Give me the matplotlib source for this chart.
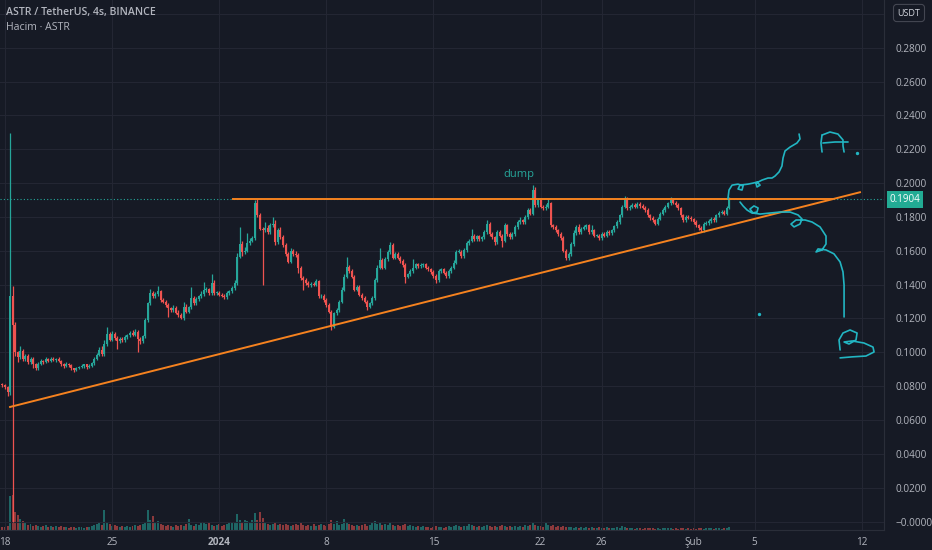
import numpy as np
import pandas as pd
import matplotlib
matplotlib.use('Agg')
import matplotlib.pyplot as plt
import matplotlib.dates as mdates

# ASTR/USDT 4h candles, first candle Dec 17 20:00
closes = [
    0.0805, 0.0795, 0.0765, 0.1330, 0.1160, 0.1000, 0.0970, 0.1010, 0.0960, 0.0980, 0.0940, 0.0960,
    0.0930, 0.0905, 0.0930, 0.0950, 0.0940, 0.0960, 0.0950, 0.0962, 0.0953, 0.0962,
    0.0948, 0.0930, 0.0918, 0.0930, 0.0925, 0.0905, 0.0895, 0.0905, 0.0912, 0.0920,
    0.0928, 0.0912, 0.0920, 0.0935, 0.0960, 0.0985, 0.1015, 0.0990, 0.1050, 0.1110,
    0.1075, 0.1110, 0.1085, 0.1065, 0.1080, 0.1070, 0.1090, 0.1100, 0.1115, 0.1105,
    0.1120, 0.1080, 0.1065, 0.1095,
    0.1190, 0.1290, 0.1350, 0.1330, 0.1345, 0.1360, 0.1310, 0.1300, 0.1280, 0.1260,
    0.1250, 0.1262, 0.1235, 0.1220, 0.1203, 0.1270, 0.1240, 0.1265, 0.1320, 0.1290,
    0.1315, 0.1330, 0.1345, 0.1368, 0.1372, 0.1350, 0.1410, 0.1350, 0.1352, 0.1340,
    0.1335, 0.1327, 0.1350, 0.1360, 0.1380, 0.1410, 0.1565, 0.1640, 0.1590, 0.1600,
    0.1645, 0.1660, 0.1675, 0.1880, 0.1810, 0.1730, 0.1720,
    0.1735, 0.1710, 0.1750, 0.1760, 0.1650, 0.1720, 0.1680, 0.1634, 0.1580, 0.1535,
    0.1600, 0.1580, 0.1575, 0.1500, 0.1440, 0.1430, 0.1410, 0.1398, 0.1405, 0.1400,
    0.1420, 0.1330, 0.1335, 0.1310, 0.1280, 0.1240, 0.1151, 0.1230, 0.1250, 0.1300,
    0.1370, 0.1447, 0.1506, 0.1480, 0.1447, 0.1370, 0.1385, 0.1340, 0.1320, 0.1300,
    0.1270, 0.1290, 0.1320, 0.1427, 0.1500, 0.1545, 0.1500, 0.1550, 0.1590, 0.1634,
    0.1560, 0.1580, 0.1560, 0.1540, 0.1516, 0.1447, 0.1460, 0.1480, 0.1500, 0.1520,
    0.1510, 0.1516, 0.1520, 0.1500, 0.1490, 0.1475, 0.1450, 0.1427, 0.1480, 0.1490,
    0.1470, 0.1450, 0.1480, 0.1500, 0.1530, 0.1595, 0.1595, 0.1570, 0.1604, 0.1645,
    0.1660, 0.1690, 0.1670, 0.1686, 0.1670, 0.1680, 0.1710, 0.1760, 0.1700, 0.1680,
    0.1650, 0.1710, 0.1690, 0.1660, 0.1750, 0.1700, 0.1680, 0.1700, 0.1740, 0.1770,
    0.1780, 0.1770, 0.1800, 0.1840, 0.1820, 0.1960, 0.1870, 0.1900, 0.1860, 0.1850,
    0.1860, 0.1880, 0.1750, 0.1740, 0.1720, 0.1700, 0.1675, 0.1600, 0.1557, 0.1580,
    0.1640, 0.1705, 0.1740, 0.1710, 0.1730, 0.1740, 0.1750, 0.1710, 0.1720, 0.1690,
    0.1690, 0.1675, 0.1700, 0.1690, 0.1710, 0.1705, 0.1720, 0.1745, 0.1770, 0.1810,
    0.1860, 0.1910, 0.1850, 0.1860, 0.1870, 0.1860, 0.1876, 0.1865, 0.1855, 0.1840,
    0.1810, 0.1794, 0.1780, 0.1760, 0.1790, 0.1820, 0.1840, 0.1860, 0.1880, 0.1900,
    0.1885, 0.1870, 0.1850, 0.1810, 0.1780, 0.1800, 0.1795, 0.1785, 0.1770, 0.1750,
    0.1735, 0.1720, 0.1760, 0.1765, 0.1775, 0.1790, 0.1780, 0.1810, 0.1825, 0.1830,
    0.1820, 0.1855, 0.1904,
]
first_open = 0.0810

# wick lengths above / below the body, in 0.001 USDT
upper_wick = [
    1, 0.5, 0.5, 96.6, 6, 2, 1, 3, 1, 1,
    1, 1.5, 1, 0.5, 1, 1, 0.5, 1, 0.5, 1,
    1, 0.5, 1, 0.5, 0.5, 1, 0.5, 0.5, 0.5, 1,
    0.5, 1, 0.5, 0.5, 1, 0.5, 1, 1, 1.5, 2.5,
    2, 3.8, 1, 1.5, 1, 1, 1, 1, 1, 1,
    1, 1.5, 1.5, 1, 1, 1, 1.5, 1, 2.4, 1,
    1, 3, 1, 1, 1, 1, 1, 1.5, 1, 1.5,
    1, 3, 1.5, 1, 6.6, 1, 1, 1, 1.5, 5,
    1.5, 1, 5.3, 1.5, 1, 1, 1, 1, 1, 1,
    1, 2, 2, 10, 2, 2, 6, 1.5, 1, 2,
    2.6, 1.5, 1, 3.5, 2, 1.5, 4, 2, 1.5, 2,
    1.5, 1, 1, 1.5, 1, 2, 1, 1, 1, 1,
    1, 1, 1, 1.5, 1, 1, 1, 1, 1, 1,
    1, 1, 1, 1.5, 1.5, 6, 1, 1, 1, 1.5,
    1, 1, 1, 1, 1, 1, 1.5, 1.5, 7, 1,
    1.5, 1.5, 1.6, 1, 1.5, 1, 1, 1, 1, 1,
    1, 5, 1, 1, 1, 1, 1, 1, 1, 1,
    1, 1.5, 1, 1, 1, 1, 1, 1.5, 1, 1.5,
    1, 1, 1.5, 1, 4, 1, 1, 1, 1, 1.5,
    2, 1, 1, 1, 1, 1, 1, 1.5, 1, 1,
    1, 1, 1, 2, 1, 1, 1.5, 1, 3, 1.5,
    1, 1, 1, 1.5, 2.5, 1, 1, 1, 1, 1,
    1, 1, 1, 1, 1.5, 1, 2, 1, 1, 1,
    1, 3, 1, 1, 1, 1, 1, 1, 1, 1,
    1, 1, 1, 1, 1.6, 1, 1, 1, 1, 1,
    1, 1, 1, 1, 1, 1, 1, 1, 1, 1,
    1, 1, 1.8, 1, 1, 1, 1, 1, 1, 1,
    1, 1, 1, 1, 1, 1, 1, 1, 1, 1,
    1, 1, 1, 1, 1, 1.6,
]
lower_wick = [
    1, 1, 2.5, 1.5, 116, 2, 3, 1, 1, 1,
    1, 1, 2, 0.7, 1, 0.5, 1, 0.5, 1, 0.5,
    0.5, 1, 0.5, 1, 1, 0.5, 1, 1, 1, 0.5,
    0.5, 0.5, 1, 1, 0.5, 0.5, 1, 0.5, 0.5, 1,
    1, 1, 1, 1, 1, 4.5, 1, 1, 1, 1,
    1, 1, 1, 7.6, 1.5, 1, 1, 1, 1, 1,
    1, 1, 1, 1, 1.5, 5, 1, 1, 1, 1,
    0.8, 1, 1, 1, 1, 1, 1, 1, 1, 1,
    1, 1, 1, 1, 1, 1, 1, 1, 1, 1,
    1, 1, 1, 1, 2, 1, 1, 1, 1, 1,
    1, 1, 32, 1, 1, 1, 1, 1.5, 1, 1,
    1, 1, 1, 1, 1, 1, 3, 1, 6, 1,
    1, 1, 1, 1, 1, 1, 1, 1, 1, 2,
    1, 1, 1, 1, 1, 1, 1, 1, 1, 1,
    1, 1, 1, 2, 1, 1, 1, 1, 1, 1,
    1, 1, 1, 1, 1, 1, 1, 1, 3.7, 1,
    1, 1, 1, 1, 1, 1, 1, 1, 1, 1,
    1.5, 1, 1, 1, 1, 1, 1, 1, 1, 1,
    1, 1, 1, 1, 1, 1, 1, 1, 1, 1,
    1, 1, 1, 1.5, 1, 1, 4, 1, 1, 1,
    1, 1, 1, 1, 1, 1, 1, 1, 1, 1,
    1, 1, 1, 1, 1, 1, 1, 1, 1, 1,
    1, 1.2, 1, 1, 1, 1, 1, 1, 1, 1,
    1, 1, 1, 1, 1, 1, 1, 1, 1, 1,
    1, 1, 1, 1, 1, 1, 1, 1, 1, 1,
    1, 1, 1, 1, 1, 1, 1, 1, 1, 1,
    1, 1, 1, 1, 1, 1, 1, 1, 1, 1,
    1, 1, 1, 1, 1, 1, 1, 1, 1, 1,
    1, 1, 1, 1, 1, 1,
]
volumes = [
    3, 3, 4, 34, 35, 18, 15, 11, 9, 7,
    5, 6, 4, 5, 4, 3, 4, 5, 3, 4,
    3, 4, 3, 4, 3, 3, 2, 3, 3, 2,
    3, 3, 2, 3, 3, 4, 5, 6, 7, 5,
    20, 8, 6, 4, 5, 4, 3, 4, 3, 4,
    3, 4, 5, 4, 5, 6, 8, 20, 10, 14,
    8, 9, 6, 5, 4, 5, 4, 3, 5, 4,
    5, 4, 6, 11, 5, 4, 6, 5, 8, 7,
    6, 8, 5, 4, 5, 6, 4, 5, 6, 7,
    7, 8, 16, 10, 8, 10, 9, 8, 10, 17,
    10, 18, 12, 7, 6, 5, 6, 7, 5, 6,
    5, 6, 5, 4, 5, 6, 5, 7, 5, 4,
    5, 4, 6, 4, 5, 6, 5, 4, 6, 10,
    6, 9, 5, 6, 11, 7, 6, 5, 4, 5,
    4, 5, 6, 4, 5, 7, 9, 6, 7, 5,
    6, 5, 7, 5, 4, 5, 4, 5, 6, 4,
    5, 4, 3, 4, 3, 4, 3, 3, 2, 3,
    4, 3, 3, 2, 3, 4, 3, 4, 5, 4,
    3, 4, 4, 6, 5, 4, 3, 4, 3, 4,
    5, 4, 3, 4, 3, 4, 5, 4, 3, 4,
    3, 4, 3, 4, 3, 5, 4, 5, 8, 5,
    4, 4, 3, 7, 5, 4, 5, 3, 4, 3,
    4, 3, 3, 3, 2, 3, 2, 3, 2, 3,
    2, 3, 2, 2, 3, 2, 2, 3, 2, 2,
    2, 3, 2, 4, 3, 2, 2, 2, 1, 2,
    2, 1, 2, 2, 2, 2, 1, 2, 1, 2,
    2, 2, 2, 1, 2, 1, 2, 2, 1, 2,
    1, 2, 1, 2, 2, 1, 2, 2, 2, 1,
    2, 2, 1, 2, 2, 3,
]

last_price = 0.1904
price_ticks = [0.00, 0.02, 0.04, 0.06, 0.08, 0.10, 0.12, 0.14, 0.16, 0.18, 0.20, 0.22, 0.24, 0.26, 0.28, 0.30]
price_labels = ['\u22120.0000', '0.0200', '0.0400', '0.0600', '0.0800', '0.1000', '0.1200', '0.1400',
                '0.1600', '0.1800', '0.2000', '0.2200', '0.2400', '0.2600', '0.2800', '']
date_ticks = ['2023-12-18', '2023-12-25', '2024-01-01', '2024-01-08', '2024-01-15',
              '2024-01-22', '2024-01-26', '2024-02-01', '2024-02-05', '2024-02-12']
date_labels = ['18', '25', '2024', '8', '15', '22', '26', 'Şub', '5', '12']

# user drawings, x in days after Dec 18, y in price
resist_d = [14.88, 54.03]
resist_p = [0.1906, 0.1906]
trend_d = [0.33, 55.88]
trend_p = [0.0677, 0.1946]
up_d = [47.25, 47.32, 47.52, 47.91, 48.24, 48.17, 47.91, 48.04, 48.56, 48.89, 49.15, 49.35, 49.15,
        49.08, 49.48, 49.87, 50.13, 50.33, 50.59, 50.78, 50.85, 50.98, 51.31, 51.76, 51.96, 51.90]
up_p = [0.1906, 0.1959, 0.1988, 0.1994, 0.1983, 0.1959, 0.1965, 0.1988, 0.1994, 0.2000, 0.2006, 0.1988,
        0.1977, 0.2000, 0.2018, 0.2030, 0.2030, 0.2042, 0.2066, 0.2101, 0.2148, 0.2190, 0.2213, 0.2237,
        0.2261, 0.2290]
down_d = [48.04, 48.24, 48.50, 48.82, 49.15, 49.22, 48.95, 48.69, 48.89, 49.35, 50.00, 50.65, 51.31,
          51.83, 52.09, 51.96, 51.57, 51.37, 51.70, 52.29, 52.75, 53.27, 53.66, 53.66, 53.40, 53.01,
          53.14, 53.66, 54.18, 54.58, 54.77, 54.84, 54.84, 54.84]
down_p = [0.1888, 0.1865, 0.1841, 0.1823, 0.1829, 0.1853, 0.1865, 0.1847, 0.1823, 0.1817, 0.1823,
          0.1829, 0.1829, 0.1812, 0.1788, 0.1758, 0.1741, 0.1758, 0.1782, 0.1782, 0.1770, 0.1741,
          0.1687, 0.1640, 0.1605, 0.1593, 0.1611, 0.1605, 0.1582, 0.1534, 0.1475, 0.1398, 0.1309, 0.1209]
a_left_d = [53.40, 53.33, 53.40]
a_left_p = [0.2184, 0.2237, 0.2284]
a_arc_d = [53.40, 53.92, 54.44, 54.77, 54.77, 54.84]
a_arc_p = [0.2284, 0.2302, 0.2290, 0.2255, 0.2220, 0.2184]
a_bar_d = [53.46, 54.25, 55.10]
a_bar_p = [0.2237, 0.2243, 0.2243]
b_d = [54.58, 54.51, 54.77, 55.23, 55.69, 55.62, 55.16, 54.84, 55.36, 56.14, 56.73, 56.80, 56.27,
       55.36, 54.58]
b_p = [0.1014, 0.1073, 0.1114, 0.1132, 0.1114, 0.1073, 0.1049, 0.1061, 0.1067, 0.1055, 0.1031,
       0.1002, 0.0978, 0.0973, 0.0967]
dots_d = [55.69, 49.28]
dots_p = [0.2178, 0.1226]
dump_d, dump_p = 33.6, 0.2048

BG = '#161A25'
GRID = '#232633'
TXT = '#B2B5BE'
UP = '#26A69A'
DOWN = '#EF5350'
ORANGE = '#F5821F'
PEN = '#22B5C2'

plt.rcParams['font.family'] = ['Open Sans', 'DejaVu Sans']

closes = np.array(closes)
opens = np.concatenate([[first_open], closes[:-1]])
highs = np.maximum(opens, closes) + np.array(upper_wick) / 1000
lows = np.minimum(opens, closes) - np.array(lower_wick) / 1000
times = pd.date_range('2023-12-17 20:00', periods=len(closes), freq='4h')
x = mdates.date2num(times)
t0 = mdates.date2num(pd.Timestamp('2023-12-18'))
up = closes >= opens
colors = np.where(up, UP, DOWN)
bar_w = 4 / 24 * 0.78

fig = plt.figure(figsize=(9.32, 5.5), dpi=100, facecolor=BG)
ax = fig.add_axes([0, 20 / 550, 884 / 932, 530 / 550])
vax = ax.twinx()
ax.set_zorder(vax.get_zorder() + 1)
ax.patch.set_visible(False)
vax.set_facecolor(BG)

# volume
vax.bar(x, volumes, width=bar_w, color=colors, alpha=0.55, linewidth=0)
vax.set_ylim(0, max(volumes) * 15.1)
vax.set_yticks([])
for s in vax.spines.values():
    s.set_visible(False)

# candles
ax.vlines(x, lows, highs, colors=colors, linewidth=0.9, zorder=3)
body = np.maximum(np.abs(closes - opens), 0.0004)
ax.bar(x, body, bottom=np.minimum(opens, closes), width=bar_w, color=colors, linewidth=0, zorder=4)

# drawings
ax.plot(t0 + np.array(resist_d), resist_p, color=ORANGE, lw=1.4, zorder=5)
ax.plot(t0 + np.array(trend_d), trend_p, color=ORANGE, lw=1.4, zorder=5)
for dd, pp in [(up_d, up_p), (down_d, down_p), (a_left_d, a_left_p), (a_arc_d, a_arc_p),
               (a_bar_d, a_bar_p), (b_d, b_p)]:
    ax.plot(t0 + np.array(dd), pp, color=PEN, lw=1.2, zorder=6, solid_capstyle='round',
            solid_joinstyle='round')
ax.scatter(t0 + np.array(dots_d), dots_p, s=2, color=PEN, zorder=6)
ax.text(t0 + dump_d, dump_p, 'dump', color=UP, fontsize=8, ha='center', va='center')

# last price line + label
ax.axhline(last_price, color=UP, lw=0.8, ls=(0, (1, 2)), zorder=2)
ax.annotate(f'{last_price:.4f}', xy=(1, last_price), xycoords=('axes fraction', 'data'),
            xytext=(4, 0), textcoords='offset points', ha='left', va='center', fontsize=7,
            color='white', bbox=dict(boxstyle='square,pad=0.3', fc='#22AB94', ec='none'),
            annotation_clip=False)

ax.set_xlim(t0 - 0.327, t0 + 57.45)
ax.set_ylim(-0.00502, 0.30822)
ax.set_yticks(price_ticks)
ax.set_yticklabels(price_labels)
ax.yaxis.tick_right()
ax.tick_params(axis='y', length=0, pad=8, labelsize=7.2, labelcolor=TXT)
ax.set_xticks(mdates.date2num(pd.to_datetime(date_ticks)))
ax.set_xticklabels(date_labels)
ax.tick_params(axis='x', length=0, pad=5, labelsize=7.2, labelcolor=TXT)
for lab in ax.get_xticklabels():
    if lab.get_text() == '2024':
        lab.set_fontweight('bold')
ax.grid(True, color=GRID, lw=0.8)
ax.set_axisbelow(True)
for k, s in ax.spines.items():
    s.set_visible(k in ('right', 'bottom'))
    s.set_color('#2A2E39')

fig.text(6 / 932, 1 - 13 / 550, 'ASTR / TetherUS, 4s, BINANCE', fontsize=7.6, color=TXT,
         fontweight='semibold', va='center')
fig.text(6 / 932, 1 - 27 / 550, 'Hacim · ASTR', fontsize=7.6, color=TXT, va='center')
fig.text(909 / 932, 1 - 13 / 550, 'USDT', fontsize=6.5, color='#D1D4DC', ha='center', va='center',
         bbox=dict(boxstyle='round,pad=0.45,rounding_size=0.35', fc=BG, ec='#434651', lw=0.8))

fig.savefig('out.png', dpi=100, facecolor=BG)
